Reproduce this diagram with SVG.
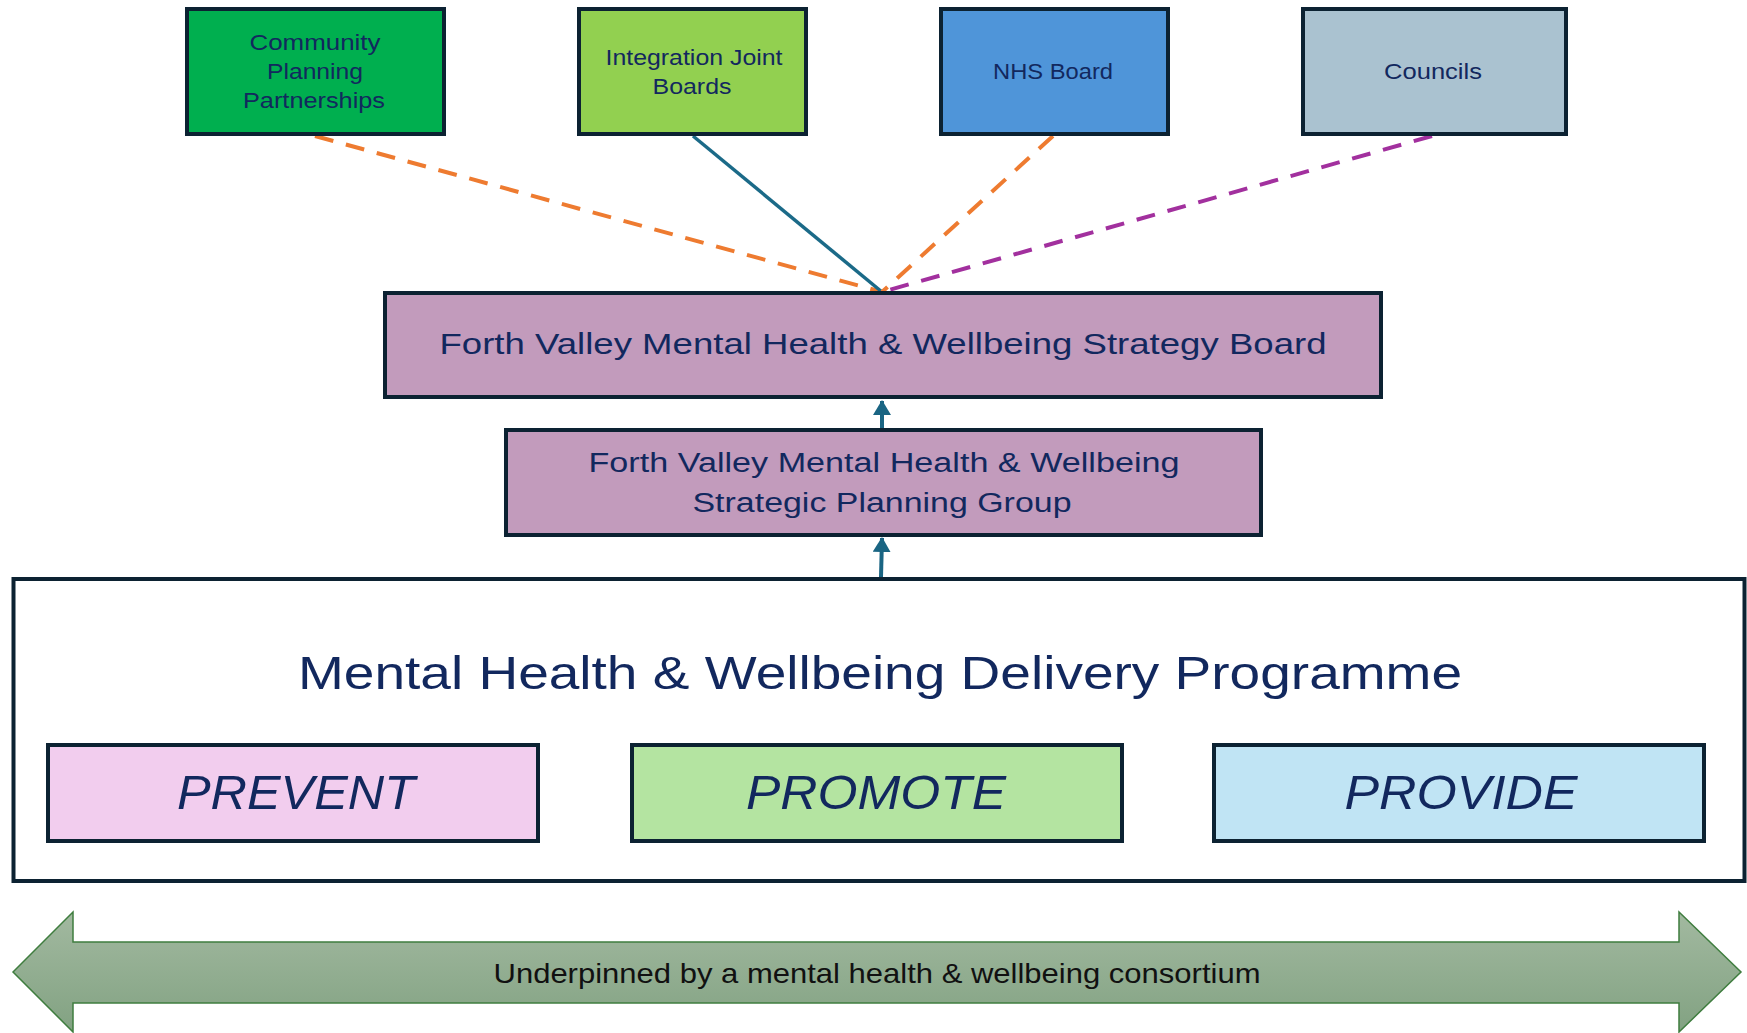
<svg xmlns="http://www.w3.org/2000/svg" width="1747" height="1033" viewBox="0 0 1747 1033">
<defs>
<linearGradient id="ag" x1="0" y1="0" x2="0" y2="1">
<stop offset="0" stop-color="#a2b9a0"/>
<stop offset="1" stop-color="#82a282"/>
</linearGradient>
<marker id="ah" viewBox="0 0 15 18" refX="14" refY="9" markerWidth="15" markerHeight="18" orient="auto" markerUnits="userSpaceOnUse">
<path d="M0,0 L15,9 L0,18 z" fill="#1a6583"/>
</marker>
<style>
.box{stroke:#0c2232;stroke-width:4}
.t{font-family:"Liberation Sans",Arial,sans-serif;fill:#12285e;text-anchor:middle}
.s{font-size:22px}
.it{font-style:italic;font-size:49px}
.dash{fill:none;stroke-width:4;stroke-dasharray:19 13}
</style>
</defs>
<rect width="1747" height="1033" fill="#ffffff"/>

<g id="connectors">
<line x1="315" y1="136" x2="882" y2="292" class="dash" stroke="#ee7b30"/>
<line x1="693" y1="136" x2="882" y2="292" fill="none" stroke="#1b6a88" stroke-width="3.5"/>
<line x1="1053" y1="136" x2="882" y2="292" class="dash" stroke="#ee7b30"/>
<line x1="1432" y1="136" x2="882" y2="292" class="dash" stroke="#a2309e"/>
<line x1="882" y1="428" x2="882" y2="401" stroke="#1a6583" stroke-width="4" marker-end="url(#ah)"/>
<line x1="881" y1="577" x2="882" y2="538" stroke="#1a6583" stroke-width="4" marker-end="url(#ah)"/>
</g>

<g id="cpp">
<rect x="187" y="9" width="257" height="125" fill="#00af4f" class="box"/>
<text class="t s" x="315" y="50" textLength="131" lengthAdjust="spacingAndGlyphs">Community</text>
<text class="t s" x="315" y="79" textLength="96" lengthAdjust="spacingAndGlyphs">Planning</text>
<text class="t s" x="314" y="108" textLength="142" lengthAdjust="spacingAndGlyphs">Partnerships</text>
</g>
<g id="ijb">
<rect x="579" y="9" width="227" height="125" fill="#92d050" class="box"/>
<text class="t s" x="694" y="65" textLength="177" lengthAdjust="spacingAndGlyphs">Integration Joint</text>
<text class="t s" x="692" y="94" textLength="79" lengthAdjust="spacingAndGlyphs">Boards</text>
</g>
<g id="nhs">
<rect x="941" y="9" width="227" height="125" fill="#4f95d9" class="box"/>
<text class="t s" x="1053" y="79" textLength="120" lengthAdjust="spacingAndGlyphs">NHS Board</text>
</g>
<g id="councils">
<rect x="1303" y="9" width="263" height="125" fill="#aac2d0" class="box"/>
<text class="t s" x="1433" y="79" textLength="98" lengthAdjust="spacingAndGlyphs">Councils</text>
</g>

<g id="strategy-board">
<rect x="385" y="293" width="996" height="104" fill="#c29bbc" class="box"/>
<text class="t" x="883" y="354" font-size="29" textLength="887" lengthAdjust="spacingAndGlyphs">Forth Valley Mental Health &amp; Wellbeing Strategy Board</text>
</g>
<g id="planning-group">
<rect x="506" y="430" width="755" height="105" fill="#c29bbc" class="box"/>
<text class="t" x="884" y="472" font-size="27" textLength="591" lengthAdjust="spacingAndGlyphs">Forth Valley Mental Health &amp; Wellbeing</text>
<text class="t" x="882" y="512" font-size="27" textLength="379" lengthAdjust="spacingAndGlyphs">Strategic Planning Group</text>
</g>

<g id="delivery-programme">
<rect x="13.5" y="579" width="1731" height="302" fill="#ffffff" class="box"/>
<text class="t" x="880" y="689" font-size="47" textLength="1164" lengthAdjust="spacingAndGlyphs">Mental Health &amp; Wellbeing Delivery Programme</text>
</g>
<g id="prevent">
<rect x="48" y="745" width="490" height="96" fill="#f2cdee" class="box"/>
<text class="t it" x="296" y="809" textLength="238" lengthAdjust="spacingAndGlyphs">PREVENT</text>
</g>
<g id="promote">
<rect x="632" y="745" width="490" height="96" fill="#b4e4a1" class="box"/>
<text class="t it" x="876" y="809" textLength="260" lengthAdjust="spacingAndGlyphs">PROMOTE</text>
</g>
<g id="provide">
<rect x="1214" y="745" width="490" height="96" fill="#c0e4f4" class="box"/>
<text class="t it" x="1461" y="809" textLength="233" lengthAdjust="spacingAndGlyphs">PROVIDE</text>
</g>

<g id="consortium">
<polygon points="13,972 73,912 73,942 1679,942 1679,912 1741,972 1679,1032 1679,1003 73,1003 73,1032" fill="url(#ag)" stroke="#3f7d3f" stroke-width="1.5"/>
<text x="877" y="983" font-family="Liberation Sans, Arial, sans-serif" font-size="28" fill="#111111" text-anchor="middle" textLength="767" lengthAdjust="spacingAndGlyphs">Underpinned by a mental health &amp; wellbeing consortium</text>
</g>
</svg>
